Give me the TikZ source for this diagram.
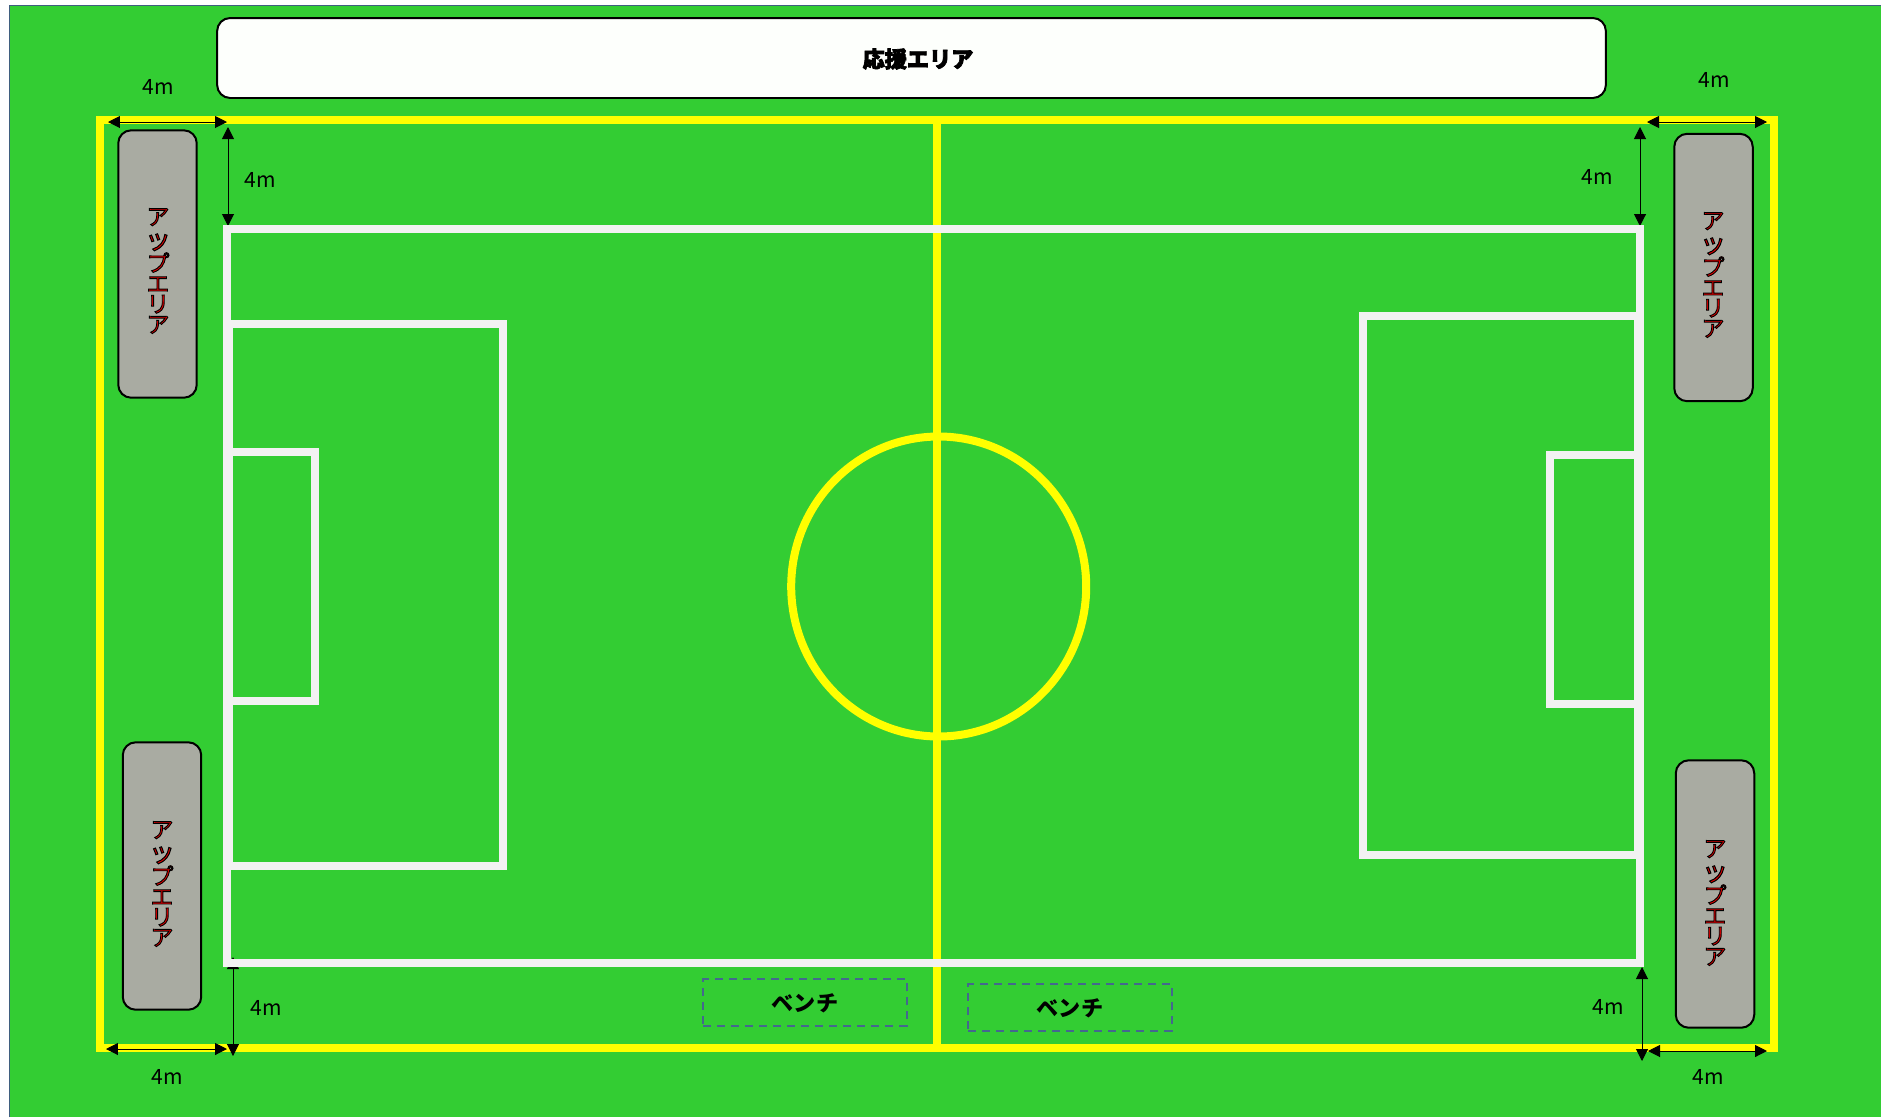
\documentclass[tikz,border=0pt]{standalone}
\usepackage{fontspec}
\setmainfont{Noto Sans CJK JP}
\usetikzlibrary{arrows.meta,positioning,calc}
\definecolor{fieldGreen}{HTML}{33CD33}
\definecolor{lineYellow}{HTML}{FFFF00}
\definecolor{lineWhite}{HTML}{F2F2F2}
\definecolor{upGray}{HTML}{A9ABA2}
\definecolor{standWhite}{HTML}{FDFFFC}
\definecolor{benchBlue}{HTML}{44688E}
\definecolor{pageEdge}{HTML}{3F5F7F}
\newcommand{\upch}[1]{\special{pdf:literal direct 2 Tr 0.5 w 0 0 0 RG 0.9 0 0 rg}#1\special{pdf:literal direct 0 Tr}}
\newcommand{\upword}{\upch{ア}\\\raisebox{-2pt}{\scalebox{1.15}{\upch{ッ}}}\\\upch{プ}\\\upch{エ}\\\upch{リ}\\\upch{ア}}
\newcommand{\heavyword}[1]{\special{pdf:literal direct 2 Tr 0.4 w 0 0 0 RG 0 0 0 rg}#1\special{pdf:literal direct 0 Tr}}
\tikzset{
  yellowline/.style={draw=lineYellow,line width=0.16cm},
  whiteline/.style={draw=lineWhite,line width=0.16cm},
  upbox/.style={draw=black,fill=upGray,line width=0.04cm,rounded corners=0.26cm,minimum width=1.57cm,minimum height=5.35cm},
  uptxt/.style={align=center,font=\fontsize{13pt}{11.6pt}\selectfont,inner sep=0pt},
  benchbox/.style={draw=benchBlue,line width=0.04cm,dash pattern=on 0.16cm off 0.12cm,minimum width=4.07cm,minimum height=0.93cm},
  bold jp/.style={font=\bfseries\fontsize{12.6pt}{14pt}\selectfont},
  dim/.style={{Triangle[length=0.24cm,width=0.24cm]}-{Triangle[length=0.24cm,width=0.24cm]},line width=0.02cm,black},
  dimtxt/.style={font=\fontsize{12pt}{14pt}\selectfont,inner sep=0pt}
}
\begin{document}
\begin{tikzpicture}[x=0.02cm,y=-0.02cm]
        \useasboundingbox (0,0) rectangle (1881,1117);
        \fill[white] (0,0) rectangle (1881,1117);
        \fill[fieldGreen] (9.5,5.5) rectangle (1881,1117);
        \draw[pageEdge,line width=0.03cm] (9.5,1117) -- (9.5,5.5) -- (1881,5.5);
        % yellow lines
        \draw[yellowline] (100,120) rectangle (1774,1048);
        \draw[yellowline] (937,120) -- (937,1048);
        \draw[yellowline] (938.7,586.5) circle[x radius=147.5,y radius=150];
        % 4m arrows
        \draw[dim] (108,122) -- (227,122);
        \draw[dim] (228,127) -- (228,226);
        \draw[dim] (106,1049) -- (227,1049);
        \draw[dim] (233,957) -- (233,1056);
        \draw[dim] (1647,122) -- (1767,122);
        \draw[dim] (1640,127) -- (1640,226);
        \draw[dim] (1648,1051) -- (1767,1051);
        \draw[dim] (1642,967) -- (1642,1061);
        % white lines
        \draw[whiteline] (227,229) rectangle (1640,963);
        \draw[whiteline] (228.7,324) rectangle (503.3,866);
        \draw[whiteline] (228.7,451.5) rectangle (315,700.7);
        \draw[whiteline] (1637.7,316) rectangle (1363.3,855);
        \draw[whiteline] (1637.7,455.3) rectangle (1550,704);
        % areas
        \node[draw=black,fill=standWhite,line width=0.04cm,rounded corners=0.26cm,minimum width=27.78cm,minimum height=1.6cm] (stand) at (911.5,58) {};
        \node[bold jp] (standtxt) at (918,59) {\heavyword{応援エリア}};
        \node[upbox] (upTL) at (157.5,264) {};
        \node[upbox] (upBL) at (162,876) {};
        \node[upbox] (upTR) at (1713.5,267.5) {};
        \node[upbox] (upBR) at (1715,894) {};
        \node[uptxt] (upTLtxt) at (158,271) {\upword};
        \node[uptxt] (upBLtxt) at (162,884) {\upword};
        \node[uptxt] (upTRtxt) at (1713,275) {\upword};
        \node[uptxt] (upBRtxt) at (1715,903) {\upword};
        \node[benchbox] (benchL) at (805,1002.5) {};
        \node[benchbox] (benchR) at (1070,1007.5) {};
        \node[bold jp] (benchLtxt) at (805,1003) {ベンチ};
        \node[bold jp] (benchRtxt) at (1070,1008) {ベンチ};
        % labels
        \node[dimtxt] (dimA) at (158,87) {4m};
        \node[dimtxt] (dimB) at (260,180) {4m};
        \node[dimtxt] (dimC) at (266,1008) {4m};
        \node[dimtxt] (dimD) at (167,1077) {4m};
        \node[dimtxt] (dimE) at (1714,80) {4m};
        \node[dimtxt] (dimF) at (1597,177) {4m};
        \node[dimtxt] (dimG) at (1608,1007) {4m};
        \node[dimtxt] (dimH) at (1708,1077) {4m};
      \end{tikzpicture}
\end{document}
